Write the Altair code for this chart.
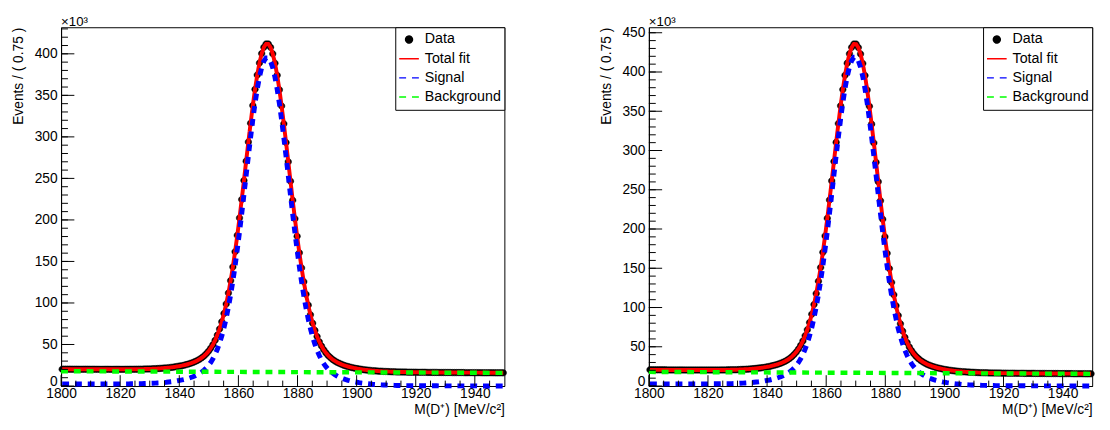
import altair as alt
import pandas as pd

# ---------------- binning of the x axis ----------------
X_MIN, X_MAX = 1800.0, 1950.0
BIN_WIDTH = 0.75
N_BINS = 200
bin_centers = [X_MIN + BIN_WIDTH * (i + 0.5) for i in range(N_BINS)]

series_names = ["Data", "Total fit", "Signal", "Background"]
series_colors = ["#000000", "#ff0000", "#0000ff", "#00ff00"]

x_major_ticks = [1800, 1820, 1840, 1860, 1880, 1900, 1920, 1940]
x_minor_ticks = [1805, 1810, 1815, 1825, 1830, 1835, 1845, 1850, 1855, 1865, 1870, 1875,
                 1885, 1890, 1895, 1905, 1910, 1915, 1925, 1930, 1935, 1945]
y_labels_left = [0, 50, 100, 150, 200, 250, 300, 350, 400]
y_labels_right = [0, 50, 100, 150, 200, 250, 300, 350, 400, 450]
y_minor_left = [v for v in range(0, 431, 10)]
y_minor_right = [v for v in range(0, 451, 10)]

# ---------------- left panel (values in units of 10^3) ----------------
data_left = [
    20.3, 20.3, 20.3, 20.3, 20.3, 20.2, 20.2, 20.2, 20.2, 20.2,
    20.2, 20.2, 20.2, 20.2, 20.2, 20.1, 20.1, 20.1, 20.1, 20.1,
    20.1, 20.1, 20.1, 20.1, 20.1, 20.1, 20.1, 20.1, 20.1, 20.1,
    20.1, 20.2, 20.2, 20.2, 20.2, 20.3, 20.3, 20.4, 20.5, 20.6,
    20.6, 20.8, 20.9, 21.0, 21.2, 21.4, 21.6, 21.8, 22.1, 22.4,
    22.7, 23.1, 23.6, 24.0, 24.5, 25.1, 25.8, 26.5, 27.4, 28.4,
    29.5, 30.8, 32.3, 34.1, 36.2, 38.8, 41.8, 45.5, 49.8, 55.1,
    61.3, 68.6, 77.3, 87.3, 98.8, 112.0, 126.9, 143.4, 161.6, 181.4,
    202.4, 224.6, 247.5, 270.8, 293.9, 316.4, 337.7, 357.2, 374.5, 389.0,
    400.3, 408.0, 411.9,
    411.8, 407.8, 400.0, 388.7, 374.1, 356.7, 337.1, 315.7, 293.2, 270.0,
    246.6, 223.6, 201.4, 180.3, 160.4, 142.2, 125.6, 110.6, 97.4, 85.8,
    75.7, 67.0, 59.6, 53.3, 48.1, 43.6, 39.9, 36.8, 34.2, 32.0,
    30.2, 28.6, 27.3, 26.1, 25.1, 24.2, 23.4, 22.7, 22.1, 21.5,
    21.0, 20.5, 20.1, 19.7, 19.4, 19.1, 18.8, 18.5, 18.3, 18.1,
    17.9, 17.8, 17.6, 17.5, 17.4, 17.3, 17.2, 17.1, 17.0, 16.9,
    16.9, 16.8, 16.8, 16.7, 16.7, 16.6, 16.6, 16.6, 16.5, 16.5,
    16.5, 16.5, 16.4, 16.4, 16.4, 16.4, 16.4, 16.3, 16.3, 16.3,
    16.3, 16.3, 16.3, 16.2, 16.2, 16.2, 16.2, 16.2, 16.2, 16.1,
    16.1, 16.1, 16.1, 16.1, 16.1, 16.1, 16.0, 16.0, 16.0, 16.0,
    16.0, 16.0, 16.0, 15.9, 15.9, 15.9, 15.9,
]
signal_left = [
    2.5, 2.5, 2.5, 2.5, 2.5, 2.5, 2.5, 2.5, 2.5, 2.5,
    2.5, 2.5, 2.5, 2.5, 2.5, 2.5, 2.5, 2.5, 2.5, 2.5,
    2.5, 2.5, 2.5, 2.5, 2.5, 2.6, 2.6, 2.6, 2.6, 2.6,
    2.6, 2.7, 2.7, 2.7, 2.8, 2.8, 2.9, 3.0, 3.1, 3.2,
    3.3, 3.4, 3.5, 3.7, 3.8, 4.0, 4.3, 4.5, 4.8, 5.1,
    5.4, 5.8, 6.3, 6.8, 7.3, 7.9, 8.6, 9.3, 10.2, 11.2,
    12.3, 13.6, 15.1, 16.9, 19.1, 21.6, 24.7, 28.3, 32.7, 38.0,
    44.2, 51.6, 60.2, 70.2, 81.8, 95.0, 109.8, 126.4, 144.6, 164.4,
    185.4, 207.6, 230.5, 253.8, 276.9, 299.4, 320.7, 340.3, 357.6, 372.1,
    383.4, 391.1, 395.0,
    395.0, 391.0, 383.2, 371.8, 357.3, 339.9, 320.3, 298.9, 276.4, 253.2,
    229.8, 206.9, 184.7, 163.5, 143.7, 125.5, 108.9, 93.9, 80.7, 69.1,
    59.0, 50.4, 43.0, 36.7, 31.4, 27.0, 23.3, 20.2, 17.6, 15.5,
    13.6, 12.1, 10.7, 9.6, 8.6, 7.7, 6.9, 6.2, 5.6, 5.0,
    4.5, 4.0, 3.6, 3.3, 3.0, 2.7, 2.4, 2.1, 1.9, 1.7,
    1.6, 1.4, 1.3, 1.2, 1.0, 0.9, 0.9, 0.8, 0.7, 0.7,
    0.6, 0.6, 0.5, 0.5, 0.5, 0.4, 0.4, 0.4, 0.4, 0.3,
    0.3, 0.3, 0.3, 0.3, 0.3, 0.3, 0.3, 0.2, 0.2, 0.2,
    0.2, 0.2, 0.2, 0.2, 0.2, 0.2, 0.2, 0.2, 0.2, 0.2,
    0.2, 0.2, 0.2, 0.2, 0.2, 0.1, 0.1, 0.1, 0.1, 0.1,
    0.1, 0.1, 0.1, 0.1, 0.1, 0.1, 0.1,
]
bkg_x = [1800, 1950]
bkg_left = [17.8, 15.8]

# ---------------- right panel (values in units of 10^3) ----------------
data_right = [
    20.6, 20.6, 20.6, 20.6, 20.6, 20.6, 20.6, 20.6, 20.5, 20.5,
    20.5, 20.5, 20.5, 20.5, 20.5, 20.5, 20.4, 20.4, 20.4, 20.4,
    20.4, 20.4, 20.4, 20.4, 20.4, 20.4, 20.4, 20.4, 20.4, 20.4,
    20.4, 20.4, 20.5, 20.5, 20.5, 20.6, 20.6, 20.7, 20.7, 20.8,
    20.9, 21.1, 21.2, 21.3, 21.5, 21.7, 21.9, 22.2, 22.5, 22.8,
    23.1, 23.5, 24.0, 24.5, 25.0, 25.7, 26.4, 27.2, 28.1, 29.1,
    30.3, 31.6, 33.2, 35.1, 37.4, 40.1, 43.3, 47.2, 51.8, 57.4,
    64.0, 71.7, 80.9, 91.5, 103.8, 117.7, 133.5, 151.0, 170.3, 191.2,
    213.6, 237.0, 261.3, 286.0, 310.5, 334.3, 356.9, 377.6, 395.9, 411.3,
    423.2, 431.4, 435.6,
    435.5, 431.2, 423.0, 410.9, 395.5, 377.1, 356.3, 333.6, 309.7, 285.1,
    260.3, 236.0, 212.4, 190.0, 169.0, 149.6, 132.0, 116.2, 102.2, 89.8,
    79.2, 70.0, 62.1, 55.4, 49.8, 45.1, 41.2, 37.9, 35.2, 32.8,
    30.9, 29.2, 27.8, 26.6, 25.5, 24.5, 23.7, 22.9, 22.3, 21.7,
    21.1, 20.6, 20.2, 19.8, 19.4, 19.1, 18.8, 18.5, 18.3, 18.1,
    17.9, 17.7, 17.5, 17.4, 17.3, 17.1, 17.0, 17.0, 16.9, 16.8,
    16.7, 16.7, 16.6, 16.6, 16.5, 16.5, 16.4, 16.4, 16.4, 16.3,
    16.3, 16.3, 16.2, 16.2, 16.2, 16.2, 16.1, 16.1, 16.1, 16.1,
    16.1, 16.0, 16.0, 16.0, 16.0, 16.0, 15.9, 15.9, 15.9, 15.9,
    15.9, 15.9, 15.8, 15.8, 15.8, 15.8, 15.8, 15.8, 15.7, 15.7,
    15.7, 15.7, 15.7, 15.7, 15.6, 15.6, 15.6,
]
signal_right = [
    2.7, 2.7, 2.7, 2.7, 2.7, 2.7, 2.7, 2.7, 2.7, 2.7,
    2.7, 2.7, 2.7, 2.7, 2.7, 2.7, 2.7, 2.7, 2.7, 2.7,
    2.7, 2.7, 2.7, 2.7, 2.7, 2.7, 2.7, 2.7, 2.8, 2.8,
    2.8, 2.8, 2.9, 2.9, 3.0, 3.0, 3.1, 3.1, 3.2, 3.3,
    3.4, 3.6, 3.7, 3.9, 4.1, 4.3, 4.5, 4.8, 5.1, 5.4,
    5.8, 6.2, 6.7, 7.2, 7.7, 8.4, 9.1, 9.9, 10.8, 11.8,
    13.0, 14.4, 16.0, 17.9, 20.2, 22.9, 26.2, 30.0, 34.7, 40.2,
    46.9, 54.6, 63.8, 74.4, 86.7, 100.7, 116.4, 134.0, 153.3, 174.2,
    196.6, 220.1, 244.4, 269.0, 293.6, 317.4, 340.0, 360.7, 379.0, 394.4,
    406.4, 414.5, 418.7,
    418.7, 414.4, 406.2, 394.1, 378.7, 360.3, 339.5, 316.9, 293.0, 268.4,
    243.6, 219.3, 195.7, 173.3, 152.3, 133.0, 115.4, 99.6, 85.6, 73.2,
    62.6, 53.4, 45.5, 38.9, 33.3, 28.6, 24.7, 21.4, 18.7, 16.4,
    14.4, 12.8, 11.4, 10.1, 9.1, 8.1, 7.3, 6.6, 5.9, 5.3,
    4.8, 4.3, 3.9, 3.5, 3.1, 2.8, 2.5, 2.3, 2.0, 1.8,
    1.7, 1.5, 1.3, 1.2, 1.1, 1.0, 0.9, 0.8, 0.8, 0.7,
    0.7, 0.6, 0.6, 0.5, 0.5, 0.5, 0.4, 0.4, 0.4, 0.4,
    0.3, 0.3, 0.3, 0.3, 0.3, 0.3, 0.3, 0.3, 0.3, 0.3,
    0.2, 0.2, 0.2, 0.2, 0.2, 0.2, 0.2, 0.2, 0.2, 0.2,
    0.2, 0.2, 0.2, 0.2, 0.2, 0.2, 0.1, 0.1, 0.1, 0.1,
    0.1, 0.1, 0.1, 0.1, 0.1, 0.1, 0.1,
]
bkg_right = [18.0, 15.5]

for arr in (data_left, signal_left, data_right, signal_right):
    assert len(arr) == N_BINS, len(arr)

# ---------------- styling ----------------
W, H = 451, 365
FONT = "Liberation Sans"
DOT_PATH = "M-0.35,0A0.35,0.35,0,1,0,0.35,0A0.35,0.35,0,1,0,-0.35,0Z"
LINE_PATH = "M-1,0L1,0"


def panel(data_vals, sig_vals, bkg_vals, ymax, y_labels, y_minor):
    xs = alt.Scale(domain=[X_MIN, X_MAX], nice=False, zero=False)
    ys = alt.Scale(domain=[0, ymax], nice=False, zero=True)
    col_scale = alt.Scale(domain=series_names, range=series_colors)
    shape_scale = alt.Scale(domain=series_names, range=[DOT_PATH, LINE_PATH, LINE_PATH, LINE_PATH])
    dash_scale = alt.Scale(domain=series_names, range=[[1, 0], [1, 0], [7, 6], [7, 6]])
    leg = alt.Legend(title=None)

    x_enc = alt.X("x:Q", scale=xs, axis=alt.Axis(
        title="M(D\u207a) [MeV/c\u00b2]", values=x_major_ticks, format="d",
        titleAnchor="end", labelFlush=False, labelOverlap=False,
        labelPadding=1, titlePadding=2))
    y_enc = alt.Y("y:Q", scale=ys, axis=alt.Axis(
        title="Events / ( 0.75 )", values=y_labels, format="d",
        titleAnchor="end", labelFlush=False, labelOverlap=False,
        labelOffset=alt.condition("datum.value == 0", alt.value(-5), alt.value(0)),
        labelPadding=4, titlePadding=9))

    df_data = pd.DataFrame({"x": bin_centers, "y": data_vals, "series": "Data"})
    df_fit = pd.DataFrame({"x": bin_centers, "y": data_vals, "series": "Total fit"})
    df_sig = pd.DataFrame({"x": bin_centers, "y": sig_vals, "series": "Signal"})
    df_bkg = pd.DataFrame({"x": bkg_x, "y": bkg_vals, "series": "Background"})

    # ticks drawn inside the frame (ROOT style)
    xt_major = alt.Chart(pd.DataFrame({"x": x_major_ticks})).mark_rule(color="black", strokeWidth=1).encode(
        x=x_enc, y=alt.value(H), y2=alt.value(H - 11))
    xt_minor = alt.Chart(pd.DataFrame({"x": x_minor_ticks})).mark_rule(color="black", strokeWidth=1).encode(
        x=x_enc, y=alt.value(H), y2=alt.value(H - 5.5))
    yt_major = alt.Chart(pd.DataFrame({"y": y_labels})).mark_rule(color="black", strokeWidth=1).encode(
        y=y_enc, x=alt.value(0), x2=alt.value(13.5))
    yt_minor = alt.Chart(pd.DataFrame({"y": y_minor})).mark_rule(color="black", strokeWidth=1).encode(
        y=y_enc, x=alt.value(0), x2=alt.value(7))

    points = alt.Chart(df_data).mark_point(filled=True, size=360, opacity=1, strokeWidth=0.5).encode(
        x=x_enc, y=y_enc,
        fill=alt.Fill("series:N", scale=col_scale, legend=leg),
        stroke=alt.Stroke("series:N", scale=col_scale, legend=leg),
        shape=alt.Shape("series:N", scale=shape_scale, legend=leg),
    )

    def curve(df, width):
        return alt.Chart(df).mark_line(strokeWidth=width).encode(
            x=x_enc, y=y_enc,
            stroke=alt.Stroke("series:N", scale=col_scale, legend=leg),
            strokeDash=alt.StrokeDash("series:N", scale=dash_scale, legend=leg),
        )

    expo = alt.Chart(pd.DataFrame({"t": ["\u00d710\u00b3"]})).mark_text(
        align="left", baseline="alphabetic", fontSize=13.5, font=FONT, color="black").encode(
        x=alt.value(0), y=alt.value(-1), text="t:N")

    return alt.layer(
        points, curve(df_fit, 4), curve(df_sig, 5), curve(df_bkg, 4.5),
        xt_minor, xt_major, yt_minor, yt_major, expo,
    ).properties(width=W, height=H)


left = panel(data_left, signal_left, bkg_left, 432, y_labels_left, y_minor_left)
right = panel(data_right, signal_right, bkg_right, 457, y_labels_right, y_minor_right)

chart = alt.hconcat(left, right, spacing=86).resolve_scale(
    fill="independent", stroke="independent", shape="independent", strokeDash="independent"
).resolve_legend(
    fill="independent", stroke="independent", shape="independent", strokeDash="independent"
).properties(
    padding={"left": 3, "top": 3, "right": 0, "bottom": 0}
).configure_view(
    stroke="black", strokeWidth=1
).configure_axis(
    labelFont=FONT, titleFont=FONT, labelFontSize=14, titleFontSize=14,
    labelColor="black", titleColor="black", titleFontWeight="normal",
    grid=False, ticks=False, domainColor="black", domainWidth=1,
).configure_legend(
    orient="top-right", offset=0, padding=3, strokeColor="black", fillColor="white",
    labelFont=FONT, labelFontSize=14.5, labelColor="black", symbolSize=400,
    symbolStrokeWidth=1.5, labelOffset=5, rowPadding=0.5, clipHeight=19, cornerRadius=0,
)

chart.save("out.html", embed_options={"renderer": "svg", "actions": False})
